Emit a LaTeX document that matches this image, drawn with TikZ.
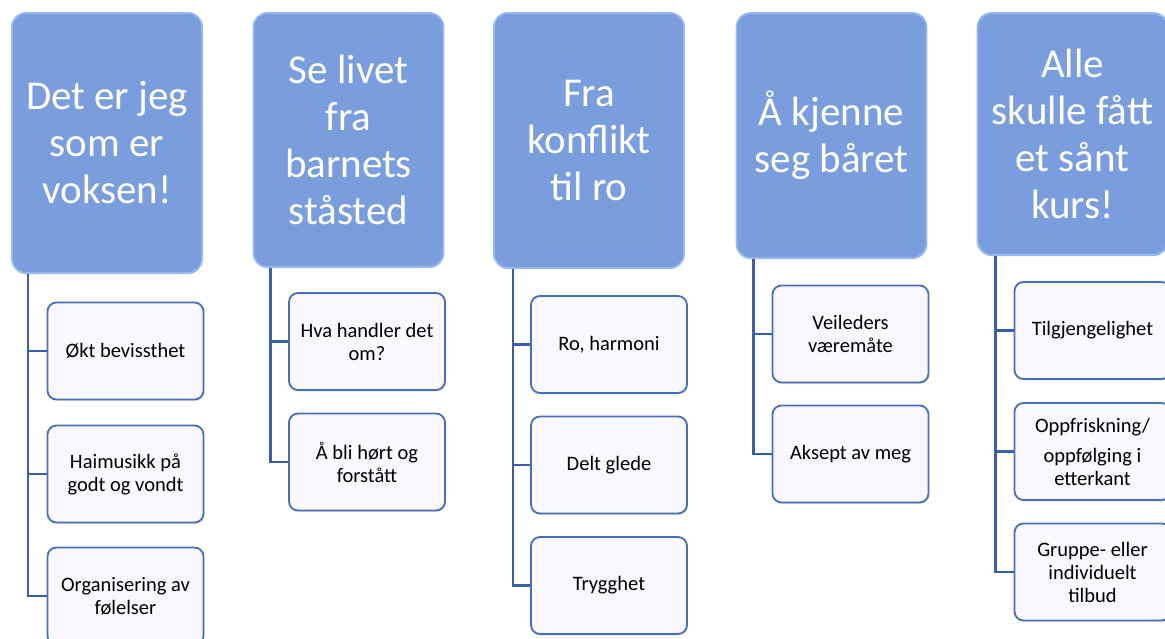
\documentclass[tikz,border=0pt]{standalone}
\usepackage{fontspec}
\setmainfont{Carlito}
\usetikzlibrary{shadows}
\definecolor{hdrfill}{RGB}{122,157,221}
\definecolor{hdrline}{RGB}{150,184,243}
\definecolor{boxfill}{RGB}{249,248,254}
\definecolor{boxline}{RGB}{70,110,190}
\definecolor{linkcol}{RGB}{58,94,168}
\begin{document}
\begin{tikzpicture}[x=1pt,y=-1pt,
	    head/.style={rectangle,rounded corners=14pt,fill=hdrfill,draw=hdrline,line width=1.8pt,
	        minimum width=190pt,inner sep=0pt,text=white,align=center,
	        font=\fontsize{41}{47}\selectfont,
	        drop shadow={opacity=0.25,shadow xshift=0pt,shadow yshift=-1.5pt}},
	    item/.style={rectangle,rounded corners=9pt,fill=boxfill,draw=boxline,line width=1.8pt,
	        minimum width=156pt,minimum height=97pt,inner sep=0pt,align=center,
	        font=\fontsize{20.5}{23}\selectfont,
	        drop shadow={opacity=0.2,shadow xshift=0.8pt,shadow yshift=-1.5pt}},
	    link/.style={draw=linkcol,line width=2.6pt}]
	    \useasboundingbox (0,0) rectangle (1165,639);
	    \clip (0,0) rectangle (1165,639);
	    \node[head,minimum height=260pt] (h1) at (107,143) {Det er jeg\\som er\\voksen!};
	    \node[head,minimum height=254pt] (h2) at (348.5,140) {Se livet\\fra\\barnets\\ståsted};
	    \node[head,minimum height=255pt] (h3) at (589,140.5) {Fra\\konflikt\\til ro};
	    \node[head,minimum height=245pt] (h4) at (831.5,135.5) {Å kjenne\\seg båret};
	    \node[head,minimum height=242pt] (h5) at (1072.5,134) {Alle\\skulle fått\\et sånt\\kurs!};
	    \node[item] (h1a) at (125.5,351) {Økt bevissthet};
	    \node[item] (h1b) at (125.5,474) {Haimusikk på\\godt og vondt};
	    \node[item] (h1c) at (125.5,596) {Organisering av\\følelser};
	    \node[item] (h2a) at (367,341.5) {Hva handler det\\om?};
	    \node[item] (h2b) at (367,462) {Å bli hørt og\\forstått};
	    \node[item] (h3a) at (609,344.5) {Ro, harmoni};
	    \node[item] (h3b) at (609,465) {Delt glede};
	    \node[item] (h3c) at (609,585.5) {Trygghet};
	    \node[item] (h4a) at (850.5,334) {Veileders\\væremåte};
	    \node[item] (h4b) at (850.5,454) {Aksept av meg};
	    \node[item] (h5a) at (1092.5,330.5) {Tilgjengelighet};
	    \node[item] (h5b) at (1092.5,451.5) {Oppfriskning/\\[7pt]oppfølging i\\etterkant};
	    \node[item] (h5c) at (1092.5,572) {Gruppe- eller\\individuelt\\tilbud};
	    \draw[link] ([xshift=17pt]h1.south west) |- (h1a.west);
	    \draw[link] ([xshift=17pt]h1.south west) |- (h1b.west);
	    \draw[link] ([xshift=17pt]h1.south west) |- (h1c.west);
	    \draw[link] ([xshift=18pt]h2.south west) |- (h2a.west);
	    \draw[link] ([xshift=18pt]h2.south west) |- (h2b.west);
	    \draw[link] ([xshift=20pt]h3.south west) |- (h3a.west);
	    \draw[link] ([xshift=20pt]h3.south west) |- (h3b.west);
	    \draw[link] ([xshift=20pt]h3.south west) |- (h3c.west);
	    \draw[link] ([xshift=18pt]h4.south west) |- (h4a.west);
	    \draw[link] ([xshift=18pt]h4.south west) |- (h4b.west);
	    \draw[link] ([xshift=19pt]h5.south west) |- (h5a.west);
	    \draw[link] ([xshift=19pt]h5.south west) |- (h5b.west);
	    \draw[link] ([xshift=19pt]h5.south west) |- (h5c.west);
	\end{tikzpicture}
\end{document}
